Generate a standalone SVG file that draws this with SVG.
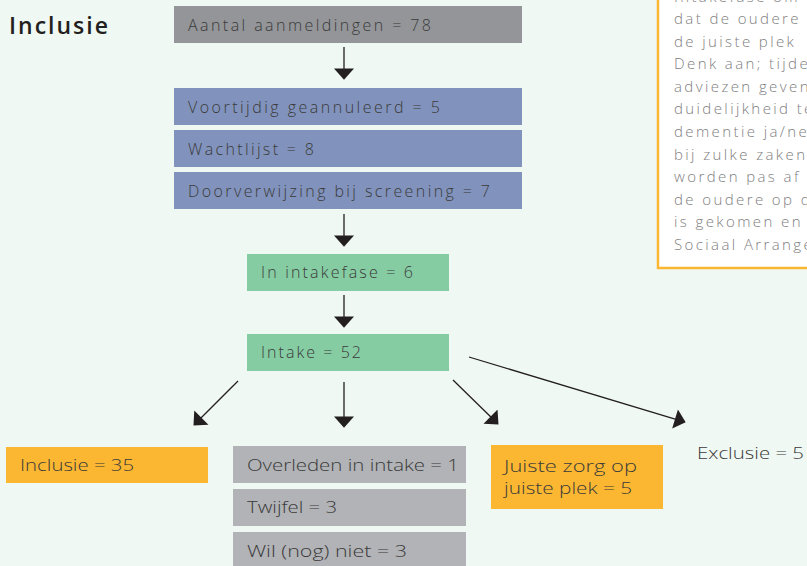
<svg xmlns="http://www.w3.org/2000/svg" width="807" height="566" viewBox="0 0 807 566">
<style>
.t{font-family:"Open Sans","Liberation Sans",sans-serif;font-size:16px;fill:#3a3a3a;font-weight:300}
.b{font-size:17px}
.note{font-family:"Open Sans","Liberation Sans",sans-serif;font-size:15px;fill:#808080;letter-spacing:2.4px;font-weight:300}
.gray{fill:#939598}.blue{fill:#8193bc}.green{fill:#86cca3}.orange{fill:#fbb731}.lg{fill:#b1b3b6}
.c{stroke:#231f20;stroke-width:1.3;fill:none;marker-end:url(#ah)}
</style>
<defs>
<marker id="ah" markerUnits="userSpaceOnUse" markerWidth="12" markerHeight="20" viewBox="0 0 10 18" refX="4" refY="9" orient="auto">
<path d="M0,0 L10,9 L0,18 z" fill="#231f20"/>
</marker>
</defs>
<rect width="807" height="566" fill="#f0f8f3"/>
<text x="9" y="34" font-family="'Open Sans','Liberation Sans',sans-serif" font-weight="600" font-size="23" fill="#231f20" textLength="99" lengthAdjust="spacing">Inclusie</text>

<g id="note">
<rect x="658" y="-10" width="160" height="278" fill="#ffffff" stroke="#fbb731" stroke-width="2.5"/>
<text class="note" x="674" y="1.5">Intakefase om</text>
<text class="note" x="674" y="24">dat de oudere</text>
<text class="note" x="674" y="46.6">de juiste plek</text>
<text class="note" x="674" y="69.2">Denk aan; tijdens</text>
<text class="note" x="674" y="91.8">adviezen geven</text>
<text class="note" x="674" y="114.4">duidelijkheid te</text>
<text class="note" x="674" y="137">dementie ja/nee</text>
<text class="note" x="674" y="159.6">bij zulke zaken</text>
<text class="note" x="674" y="182.2">worden pas af</text>
<text class="note" x="674" y="204.8">de oudere op de</text>
<text class="note" x="674" y="227.4">is gekomen en</text>
<text class="note" x="674" y="250">Sociaal Arrangement</text>
</g>

<g id="aanmeldingen"><rect class="gray" x="174" y="6" width="348" height="37"/><text class="t" x="188" y="31" textLength="243" lengthAdjust="spacing">Aantal aanmeldingen = 78</text></g>
<g id="geannuleerd"><rect class="blue" x="174" y="88" width="348" height="37"/><text class="t" x="188" y="113" textLength="252" lengthAdjust="spacing">Voortijdig geannuleerd = 5</text></g>
<g id="wachtlijst"><rect class="blue" x="174" y="130" width="348" height="37"/><text class="t" x="188" y="155" textLength="126" lengthAdjust="spacing">Wachtlijst = 8</text></g>
<g id="doorverwijzing"><rect class="blue" x="174" y="172" width="348" height="37"/><text class="t" x="188" y="197" textLength="302" lengthAdjust="spacing">Doorverwijzing bij screening = 7</text></g>
<g id="intakefase"><rect class="green" x="247" y="254" width="202" height="37"/><text class="t" x="261" y="278" textLength="152" lengthAdjust="spacing">In intakefase = 6</text></g>
<g id="intake"><rect class="green" x="247" y="334" width="202" height="37"/><text class="t" x="261" y="358" textLength="100" lengthAdjust="spacing">Intake = 52</text></g>
<g id="inclusie"><rect class="orange" x="6" y="447" width="202" height="36"/><text class="t b" x="20" y="471" textLength="114" lengthAdjust="spacingAndGlyphs">Inclusie = 35</text></g>
<g id="overleden"><rect class="lg" x="233" y="446" width="233" height="37"/><text class="t b" x="247" y="471" textLength="212" lengthAdjust="spacingAndGlyphs">Overleden in intake = 1</text></g>
<g id="twijfel"><rect class="lg" x="233" y="489" width="233" height="37"/><text class="t b" x="247" y="513" textLength="90" lengthAdjust="spacingAndGlyphs">Twijfel = 3</text></g>
<g id="wilniet"><rect class="lg" x="233" y="532" width="233" height="40"/><text class="t b" x="247" y="557" textLength="160" lengthAdjust="spacingAndGlyphs">Wil (nog) niet = 3</text></g>
<g id="juistezorg"><rect class="orange" x="491" y="445" width="172" height="64"/><text class="t b" x="504" y="472" textLength="133" lengthAdjust="spacingAndGlyphs">Juiste zorg op</text><text class="t b" x="504" y="494" textLength="128" lengthAdjust="spacingAndGlyphs">juiste plek = 5</text></g>
<g id="exclusie"><text class="t b" x="697" y="459" textLength="107" lengthAdjust="spacingAndGlyphs">Exclusie = 5</text></g>

<g id="connectors">
<path class="c" d="M344,47 L344,73"/>
<path class="c" d="M344,214 L344,240"/>
<path class="c" d="M344,295 L344,321"/>
<path class="c" d="M238,381 L198.2,420.8"/>
<path class="c" d="M344,382 L344,421"/>
<path class="c" d="M453,380 L493.7,419.8"/>
<path class="c" d="M469,357 L679.3,420.3"/>
</g>
</svg>
